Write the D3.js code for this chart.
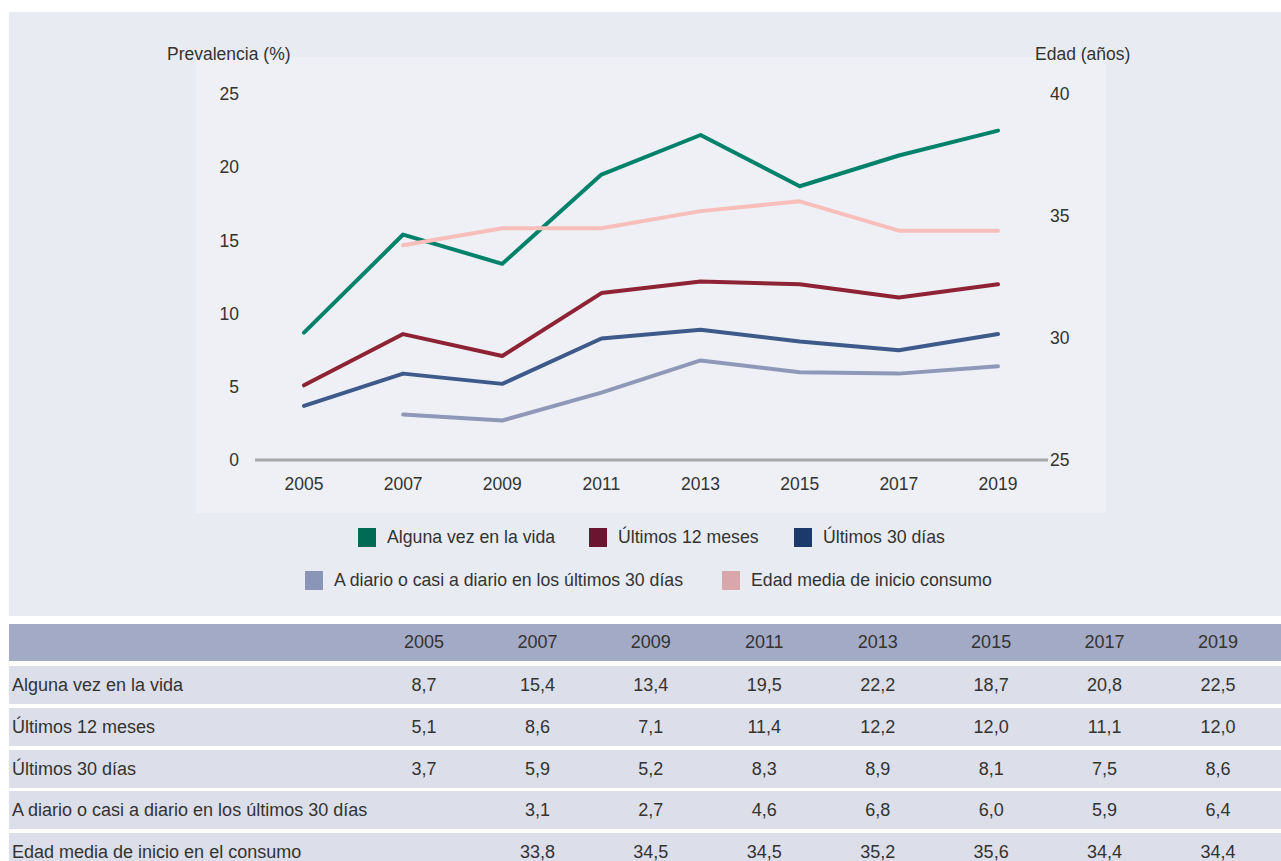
<!DOCTYPE html>
<html>
<head>
<meta charset="utf-8">
<script src="https://cdn.jsdelivr.net/npm/d3@7"></script>
<style>
  body { margin: 0; background: #fff; }
  svg text { font-family: "Liberation Sans", Arial, sans-serif; fill: #333; }
</style>
</head>
<body>
<div id="chart"></div>
<script>
const years = ["2005", "2007", "2009", "2011", "2013", "2015", "2017", "2019"];
const seriesNames = [
    "Alguna vez en la vida",
    "Últimos 12 meses",
    "Últimos 30 días",
    "A diario o casi a diario en los últimos 30 días",
    "Edad media de inicio consumo"
];
const tableRowNames = [
    "Alguna vez en la vida",
    "Últimos 12 meses",
    "Últimos 30 días",
    "A diario o casi a diario en los últimos 30 días",
    "Edad media de inicio en el consumo"
];
const alguna = [8.7, 15.4, 13.4, 19.5, 22.2, 18.7, 20.8, 22.5];
const ultimos12 = [5.1, 8.6, 7.1, 11.4, 12.2, 12.0, 11.1, 12.0];
const ultimos30 = [3.7, 5.9, 5.2, 8.3, 8.9, 8.1, 7.5, 8.6];
const diario = [null, 3.1, 2.7, 4.6, 6.8, 6.0, 5.9, 6.4];
const edadMedia = [null, 33.8, 34.5, 34.5, 35.2, 35.6, 34.4, 34.4];
const leftTicks = [0, 5, 10, 15, 20, 25];
const rightTicks = [25, 30, 35, 40];

const lineColors = ["#00826a", "#8e2335", "#3d5a8a", "#9098b9", "#f8bfba"];
const legendColors = ["#006b54", "#6b1530", "#1b3a6b", "#8a95b8", "#d9a6ab"];

const W = 1281, H = 861;
const svg = d3.select("#chart").append("svg")
    .attr("width", W)
    .attr("height", H);

// backgrounds
svg.append("rect").attr("x", 9).attr("y", 12).attr("width", W - 9).attr("height", 604)
    .attr("fill", "#e9ebf2");
svg.append("rect").attr("x", 196).attr("y", 57).attr("width", 910).attr("height", 456)
    .attr("fill", "#eef0f5");

const x = d3.scalePoint().domain(years).range([304, 998]);
const yL = d3.scaleLinear().domain([0, 25]).range([460, 94]);
const yR = d3.scaleLinear().domain([25, 40]).range([460, 94]);

// baseline
svg.append("line")
    .attr("x1", 255).attr("x2", 1048)
    .attr("y1", yL(0)).attr("y2", yL(0))
    .attr("stroke", "#a8a8a8").attr("stroke-width", 3);

// axis labels
svg.append("g").selectAll("text").data(leftTicks).join("text")
    .attr("x", 239).attr("y", d => yL(d)).attr("dy", "0.35em")
    .attr("text-anchor", "end").attr("font-size", 17.5)
    .text(d => d);

svg.append("g").selectAll("text").data(rightTicks).join("text")
    .attr("x", 1050).attr("y", d => yR(d)).attr("dy", "0.35em")
    .attr("text-anchor", "start").attr("font-size", 17.5)
    .text(d => d);

svg.append("g").selectAll("text").data(years).join("text")
    .attr("x", d => x(d)).attr("y", 484).attr("dy", "0.35em")
    .attr("text-anchor", "middle").attr("font-size", 17.5)
    .text(d => d);

svg.append("text").attr("x", 167).attr("y", 60).attr("font-size", 17.5)
    .text("Prevalencia (%)");
svg.append("text").attr("x", 1035).attr("y", 60).attr("font-size", 17.5)
    .text("Edad (años)");

// lines
const series = [alguna, ultimos12, ultimos30, diario, edadMedia];
const scales = [yL, yL, yL, yL, yR];
series.forEach((vals, i) => {
    const pts = vals.map((v, j) => ({ year: years[j], v })).filter(d => d.v != null);
    const line = d3.line().x(d => x(d.year)).y(d => scales[i](d.v));
    svg.append("path")
        .datum(pts)
        .attr("d", line)
        .attr("fill", "none")
        .attr("stroke", lineColors[i])
        .attr("stroke-width", 4)
        .attr("stroke-linejoin", "round")
        .attr("stroke-linecap", "round");
});

// legend
const legendRows = [
    [{ i: 0, x: 358 }, { i: 1, x: 589 }, { i: 2, x: 794 }],
    [{ i: 3, x: 305 }, { i: 4, x: 722 }]
];
const legendY = [537, 580];
legendRows.forEach((row, r) => {
    const g = svg.append("g");
    g.selectAll("rect").data(row).join("rect")
        .attr("x", d => d.x).attr("y", legendY[r] - 9)
        .attr("width", 18).attr("height", 19)
        .attr("fill", d => legendColors[d.i]);
    g.selectAll("text").data(row).join("text")
        .attr("x", d => d.x + 29).attr("y", legendY[r]).attr("dy", "0.35em")
        .attr("font-size", 17.7)
        .text(d => seriesNames[d.i]);
});

// table
const colX = d3.scalePoint().domain(years).range([424, 1218]);
const fmt = v => v == null ? "" : v.toFixed(1).replace(".", ",");
svg.append("rect").attr("x", 9).attr("y", 624).attr("width", W - 9).attr("height", 37)
    .attr("fill", "#a3aac5");
svg.append("g").selectAll("text").data(years).join("text")
    .attr("x", d => colX(d)).attr("y", 642).attr("dy", "0.35em")
    .attr("text-anchor", "middle").attr("font-size", 18)
    .text(d => d);

const rowTops = [666, 708, 750, 791, 833];
const rowH = 38;
const tableVals = [alguna, ultimos12, ultimos30, diario, edadMedia];
tableVals.forEach((vals, r) => {
    const g = svg.append("g");
    g.append("rect").attr("x", 9).attr("y", rowTops[r]).attr("width", W - 9).attr("height", rowH)
        .attr("fill", "#dcdee9");
    g.append("text").attr("x", 12).attr("y", rowTops[r] + 19).attr("dy", "0.35em")
        .attr("font-size", 18).text(tableRowNames[r]);
    g.selectAll("text.v").data(vals.map((v, j) => ({ v, year: years[j] }))).join("text")
        .attr("class", "v")
        .attr("x", d => colX(d.year)).attr("y", rowTops[r] + 19).attr("dy", "0.35em")
        .attr("text-anchor", "middle").attr("font-size", 18)
        .text(d => fmt(d.v));
});
</script>
</body>
</html>
